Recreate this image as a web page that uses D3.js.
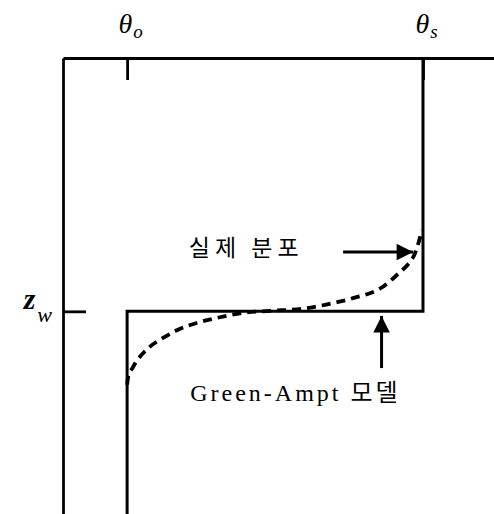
<!DOCTYPE html>
<html>
<head>
<meta charset="utf-8">
<script src="https://cdn.jsdelivr.net/npm/d3@7"></script>
<style>
  body { margin: 0; background: #fff; }
  svg { display: block; }
  .axis path, .axis line { stroke: #000; stroke-width: 2.8; }
  .lbl { font-family: "Liberation Serif", "DejaVu Serif", serif; font-style: italic; fill: #000; }
</style>
</head>
<body>
<div id="chart"></div>
<script>
var width = 494, height = 514

// moisture content (theta) and depth (cm)
var thetaTicks = [0.10, 0.40]          // theta_o, theta_s
var thetaSubs = ['o', 's']
var depthTicks = [50]                  // z_w
var depthSubs = ['w']

// Green-Ampt step profile
var modelTheta = [0.40, 0.40, 0.10, 0.10]
var modelDepth = [0, 50, 50, 90]

// actual wetting profile
var obsTheta = [0.100, 0.101, 0.106, 0.123, 0.136, 0.151, 0.174, 0.191, 0.218, 0.245, 0.278, 0.296, 0.313, 0.329, 0.359, 0.377, 0.384, 0.392, 0.399]
var obsDepth = [64.5, 63.0, 61.0, 57.0, 55.3, 53.7, 52.1, 51.3, 50.3, 49.9, 49.5, 48.9, 48.2, 47.4, 45.2, 42.2, 40.9, 38.5, 34.0]

// annotations: [theta, depth]
var realLabel = {text: '실제 분포', at: [0.279, 39.0], arrow: [[0.319, 38.3], [0.390, 38.3]]}
var gaLabel = {text: 'Green-Ampt 모델', at: [0.164, 67.6], arrow: [[0.358, 61.2], [0.358, 50.9]]}

var x = d3.scaleLinear().domain([0.035, 0.472]).range([63, 494])
var y = d3.scaleLinear().domain([0, 90]).range([58, 514])

var svg = d3.select('#chart').append('svg')
    .attr('width', width)
    .attr('height', height)

svg.append('defs').append('marker')
    .attr('id', 'head')
    .attr('viewBox', '0 0 10 10')
    .attr('refX', 10).attr('refY', 5)
    .attr('markerWidth', 6.5).attr('markerHeight', 5.5)
    .attr('markerUnits', 'strokeWidth')
    .attr('orient', 'auto')
  .append('path')
    .attr('d', 'M0,0L10,5L0,10Z')
    .attr('fill', '#000')

// top axis
var xAxis = svg.append('g')
    .attr('class', 'axis')
    .attr('transform', 'translate(0,' + y(0) + ')')
    .call(d3.axisTop(x).tickValues(thetaTicks).tickSize(-22).tickSizeOuter(0).tickPadding(25).tickFormat(''))

xAxis.selectAll('.tick text').each(function(d, i) {
    var t = d3.select(this).attr('class', 'lbl').attr('font-size', 28).attr('text-anchor', 'middle').attr('dx', 3)
    t.append('tspan').text('θ')
    t.append('tspan').attr('font-size', 19).attr('dy', 5).attr('dx', 1).text(thetaSubs[i])
})

// left axis
var yAxis = svg.append('g')
    .attr('class', 'axis')
    .attr('transform', 'translate(' + x.range()[0] + ',0)')
    .call(d3.axisLeft(y).tickValues(depthTicks).tickSize(-23).tickSizeOuter(0).tickPadding(11).tickFormat(''))

yAxis.selectAll('.tick text').each(function(d, i) {
    var t = d3.select(this).attr('class', 'lbl').attr('font-size', 30).attr('font-weight', 'bold').attr('dy', -3)
    t.append('tspan').text('z')
    t.append('tspan').attr('font-size', 22).attr('font-weight', 'normal').attr('dx', 2).attr('dy', 13).text(depthSubs[i])
})

// Green-Ampt model
var line = d3.line().x(function(d) { return x(d[0]) }).y(function(d) { return y(d[1]) })

svg.append('path')
    .datum(d3.zip(modelTheta, modelDepth))
    .attr('d', line)
    .attr('fill', 'none')
    .attr('stroke', '#000')
    .attr('stroke-width', 3)

// actual distribution
svg.append('path')
    .datum(d3.zip(obsTheta, obsDepth))
    .attr('d', line.curve(d3.curveMonotoneX))
    .attr('fill', 'none')
    .attr('stroke', '#000')
    .attr('stroke-width', 3.8)
    .attr('stroke-dasharray', '9,6')

line.curve(d3.curveLinear)

// annotations
svg.append('text')
    .attr('x', x(realLabel.at[0])).attr('y', y(realLabel.at[1]))
    .attr('text-anchor', 'end')
    .attr('font-family', '"Noto Sans CJK KR", sans-serif')
    .attr('font-size', 23)
    .attr('letter-spacing', 5)
    .text(realLabel.text)

svg.append('text')
    .attr('x', x(gaLabel.at[0])).attr('y', y(gaLabel.at[1]))
    .attr('font-family', '"Liberation Serif", "Noto Sans CJK KR", serif')
    .attr('font-size', 24)
    .attr('letter-spacing', 3)
    .text(gaLabel.text)

;[realLabel.arrow, gaLabel.arrow].forEach(function(a) {
    svg.append('path')
        .datum(a)
        .attr('d', line)
        .attr('stroke', '#000')
        .attr('stroke-width', 3)
        .attr('marker-end', 'url(#head)')
})
</script>
</body>
</html>
